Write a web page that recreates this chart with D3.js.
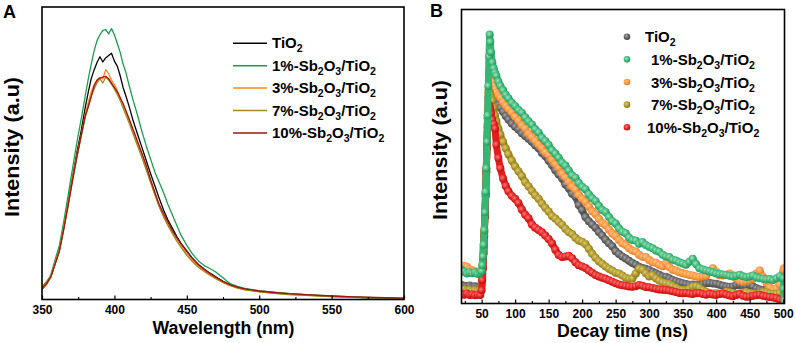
<!DOCTYPE html>
<html><head><meta charset="utf-8">
<script src="https://cdn.jsdelivr.net/npm/d3@7/dist/d3.min.js"></script>
<style>
body{margin:0;background:#fff}
svg{display:block}
text{font-family:"Liberation Sans",Arial,sans-serif;font-weight:bold;fill:#000}
</style>
</head><body>
<svg id="c" width="796" height="343"></svg>
<script>
// ---------- DATA ----------
const seriesNames = ["TiO2","1%-Sb2O3/TiO2","3%-Sb2O3/TiO2","7%-Sb2O3/TiO2","10%-Sb2O3/TiO2"];

// Panel A: photoluminescence spectra
const wavelength = [350,353,356,359,362,365,368,371,374,377,380,382,384,386,388,390,392,394,396,398,
  400,402,404,406,408,410,413,416,419,422,425,428,431,434,437,440,443,446,450,454,
  458,462,466,470,475,480,485,490,500,510,520,535,550,565,580,600];
const plTiO2 = [3.5,5.2,7.6,12.3,17,24.5,33,41.5,50,57.5,66,71,75.5,78.5,81,83,81.2,82.6,83.4,84.2,
  81.5,79.8,76.5,72.5,69.5,66.3,61,56.5,52,47.5,43,38.8,34.5,30.5,27.2,24.4,21.6,19.2,16.6,14,
  12,10.4,9,7.8,6.2,5.0,4.2,3.6,2.8,2.3,1.9,1.5,1.1,0.8,0.5,0.3];
const pl1 = [4.4,6.0,8.2,13.5,18.5,26.5,35.5,44.5,53.5,61.5,70,75.5,80.5,85,88.5,90.5,92,92.3,90.8,92.6,
  90.5,87.5,84.5,80.5,77.5,73.5,68,63,57.5,52.5,48,43.5,40,36.5,32.5,29,25.5,22,18.5,15.5,
  13.2,11.6,10.6,9.4,7.4,5.4,4.5,3.8,3.0,2.5,2.1,1.6,1.2,0.9,0.6,0.4];
const pl3 = [4.0,5.6,7.9,12.5,17,24.5,32.5,41,49,56,63.5,67.5,71,73.5,75,76,75.4,78.6,77.2,75,
  73.5,71.5,69,66.5,64,61.5,57.5,53.5,49.5,45,40.2,35.8,31.8,28.6,25.6,23,20.5,18.2,15.6,13.4,
  11.5,10,8.6,7.3,5.9,4.8,4.0,3.4,2.7,2.2,1.8,1.4,1.0,0.8,0.6,0.4];
const pl7 = [3.6,5.2,7.5,12,16.5,24,32,40.5,48.5,55.5,62.5,66,69.5,72,74,75.5,74,76,75,73.5,
  72,70,68,65.5,63,60.5,56.5,52.5,48.5,44.3,40,35.8,31.6,28.2,25.2,22.6,20,17.8,15.1,12.9,
  11,9.6,8.3,7.1,5.8,4.7,3.9,3.3,2.6,2.1,1.7,1.3,1.0,0.7,0.5,0.3];
const pl10 = [3.8,5.4,7.7,12,16.5,24,32,40.5,48.5,56,63,66,69.5,73,75,75.7,76,76.3,75.5,74,
  72.5,71,69,67,64.5,62,58,54,50,45.8,41,36.6,32.4,29.3,26.4,23.6,21.2,19,16.4,14,
  11.9,10.3,8.9,7.6,6.2,5.0,4.2,3.6,2.9,2.4,2.0,1.6,1.2,0.9,0.7,0.5];
const wlTicks = [350,400,450,500,550,600];
const wlMinor = [375,425,475,525,575];

// Panel B: time-resolved decay
const decayTime = [20,24,28,32,36,40,44,48,
  50,51,52,53,54,55,56,57,58,59,60,61,62,63,64,
  66,68,70,72,75,78,82,86,90,95,
  100,105,110,115,120,125,130,135,140,145,
  150,155,160,165,170,175,180,185,190,195,
  200,205,210,215,220,225,230,235,240,245,
  250,255,260,265,270,275,280,285,290,295,
  300,305,310,315,320,325,330,335,340,345,
  350,355,360,365,370,375,380,385,390,395,
  400,405,410,415,420,425,430,435,440,445,
  450,455,460,465,470,475,480,485,490,495,
  500,501,502];
const decayTiO2 = [6.3,6.0,5.8,6.1,5.7,5.9,5.6,5.8,
  7,10,14,19,24.5,30.5,37.5,45.5,54.5,63,70,75,77,75,73,
  71,69.8,68.9,68.2,67.5,66.6,65.2,63.8,62.6,61.2,
  60.1,59.2,57.9,57.0,56.0,55.0,53.8,52.8,51.2,50.2,
  48.6,47.1,45.3,43.9,42.6,40.5,39.2,37.3,36.4,33.5,
  31.8,29.4,28.0,26.9,25.8,24.3,23.1,21.7,20.5,19.5,
  17.8,16.8,16.0,15.3,14.5,13.8,13.2,12.5,12.1,11.8,
  11.4,10.8,10.3,9.8,9.2,9.1,8.6,8.0,7.6,7.2,
  6.9,6.6,6.4,6.5,6.3,6.2,6.6,6.9,7.0,6.8,
  6.7,6.4,6.0,5.8,5.7,5.8,6.2,6.4,6.1,6.0,
  6.3,5.8,5.2,4.8,4.6,4.6,4.8,4.5,4.3,4.6,
  4.6,4.5,4.4];
const decay1 = [11.5,10.8,10.2,10.6,10.3,10.6,10.1,10.4,
  11,13,16,20,25,31,38,46,55,64,74,84,91.5,89,85.5,
  82,80,78.5,77.5,75.5,74,72.5,71,69.8,68.3,
  67.2,65.8,64.9,63.3,62.0,60.9,59.3,58.2,56.4,55.3,
  53.9,52.1,51.0,49.6,47.9,46.9,45.2,43.6,42.8,41.0,
  39.7,38.9,37.1,35.8,34.9,33.2,31.8,31.1,29.4,28.0,
  27.2,25.5,24.4,23.9,22.4,21.6,21.4,20.3,20.9,19.9,
  19.3,18.8,18.0,17.6,16.6,16.0,15.8,14.9,14.6,14.0,
  13.6,13.2,14.2,15.2,13.4,12.0,11.6,11.2,11.0,10.6,
  10.2,10.0,9.9,9.7,9.4,9.2,9.4,9.8,9.3,9.0,
  9.2,9.5,8.9,8.6,8.4,8.2,8.3,8.0,8.6,9.3,
  8.6,5,1];
const decay3 = [12.2,12.8,12.5,11.6,11.3,11.0,10.2,10.0,
  10.8,13,16,20,25,31,38,46,55,64,72,79,82,80,78,
  75.5,74,72.8,71.8,70.9,70.0,68.5,67.3,66.2,65.0,
  63.5,62.2,60.6,59.5,57.8,56.7,55.4,54.1,52.9,51.4,
  50.5,48.8,47.4,46.2,44.2,42.9,41.5,39.8,38.8,37.0,
  35.6,34.6,33.0,31.4,30.4,28.8,27.4,26.6,25.2,23.8,
  23.0,21.6,20.5,19.9,18.8,18.0,17.7,16.6,15.9,15.8,
  14.8,14.0,13.9,13.2,12.7,13.8,12.4,11.5,11.2,10.6,
  10.3,10.0,9.7,9.5,9.2,9.0,9.2,9.4,10.8,12.0,
  10.8,9.6,9.5,9.8,10.2,9.6,8.5,7.8,7.4,7.6,
  8.0,8.4,10.2,11.2,9.0,7.0,5.4,4.6,5.2,6.5,
  11.0,12,11.5];
const decay7 = [4.5,4.8,4.3,4.6,4.2,4.5,4.3,4.5,
  6,9,13,18,24,30,37,45,53.5,61,67,71,72,71,70,
  69,66.5,64,62,59.5,57.5,55.0,52.8,50.8,48.6,
  46.6,45.0,43.4,41.3,39.9,38.3,36.8,35.6,34.0,32.6,
  31.3,29.8,28.9,27.8,26.8,25.4,24.3,23.6,22.4,21.4,
  21.0,20.2,18.6,16.9,15.6,14.4,13.5,12.6,11.8,11.2,
  10.5,10.2,9.5,8.8,8.4,8.5,10.2,11.8,11.5,10.3,
  9.2,9.6,8.6,7.8,7.2,6.9,6.6,6.0,5.4,4.8,
  4.6,4.5,5.0,5.7,5.9,5.4,4.6,4.0,3.6,3.4,
  3.5,3.3,3.6,4.0,3.8,3.6,3.2,3.4,3.7,3.9,
  3.6,3.4,3.2,3.5,3.9,3.7,3.4,3.2,3.3,3.5,
  3.4,3.3,3.2];
const decay10 = [3.2,3.0,3.4,2.9,3.1,2.8,3.0,2.9,
  4.5,8,12,17,23,29.5,36.5,44.5,53,60,65,67.5,67,66,64.5,
  62.5,61,59.5,54,49.5,46,42.5,40.0,38.2,36.6,
  35.6,34.2,32.0,30.2,29.0,26.9,25.8,25.0,24.2,23.1,
  21.9,20.5,18.3,16.5,15.8,16.0,16.2,15.4,14.0,13.0,
  12.6,12.1,11.2,10.5,9.7,9.2,8.8,8.4,7.9,7.4,
  6.9,6.5,6.2,6.0,5.8,5.7,5.9,6.3,6.0,5.6,
  5.5,5.3,5.0,4.8,4.7,4.6,4.4,4.2,3.9,3.6,
  3.5,3.6,3.4,3.2,3.5,3.6,3.2,3.0,3.3,3.1,
  2.9,3.2,3.4,3.1,2.7,2.5,2.9,3.2,2.6,2.3,
  2.4,2.6,2.8,3.0,2.6,2.4,2.2,2.0,1.8,1.3,
  1.0,0.8,0.8];
const timeTicks = [50,100,150,200,250,300,350,400,450,500];
const timeMinor = [25,75,125,175,225,275,325,375,425,475];

// ---------- STYLE ----------
const colorsA = ["#000000","#1c9e4e","#ff8a1c","#a3871f","#a01414"];
const colorsB = ["#5c5c5c","#35b673","#ff943a","#ab9326","#e31c1c"];
const lightB  = ["#a8a8a8","#9fe2bd","#ffc58c","#dccb72","#ff7a78"];

const svg = d3.select("#c");
const defs = svg.append("defs");

function addLabel(sel, label, mainSize, subSize, shift){
  // digits directly following a letter are subscripts
  let segs = [];
  for (let i=0;i<label.length;i++){
    const ch = label[i];
    const sub = /\d/.test(ch) && i>0 && /[A-Za-z]/.test(label[i-1]);
    if (segs.length && segs[segs.length-1].sub===sub) segs[segs.length-1].t += ch;
    else segs.push({t:ch, sub});
  }
  let cur = 0;
  segs.forEach(s=>{
    const target = s.sub ? shift : 0;
    sel.append("tspan").attr("dy", target-cur)
      .attr("font-size", s.sub?subSize:mainSize).text(s.t);
    cur = target;
  });
}

// ---------- PANEL A ----------
const A = {l:42, r:404, t:7, b:299.5};
const xA = d3.scaleLinear().domain([350,600]).range([A.l, A.r]);
const yA = d3.scaleLinear().domain([0,100]).range([A.b, A.t]);
defs.append("clipPath").attr("id","clipA").append("rect")
  .attr("x",A.l).attr("y",A.t).attr("width",A.r-A.l).attr("height",A.b-A.t);

const plSeries = [plTiO2, pl1, pl3, pl7, pl10];
const lineA = d3.line().x(d=>xA(d[0])).y(d=>yA(d[1]));
const gA = svg.append("g").attr("clip-path","url(#clipA)");
plSeries.forEach((s,i)=>{
  gA.append("path").datum(wavelength.map((w,j)=>[w,s[j]]))
    .attr("d", lineA).attr("fill","none").attr("stroke",colorsA[i])
    .attr("stroke-width",1.3).attr("stroke-linejoin","round");
});

const axA = svg.append("g").attr("transform",`translate(0,${A.b})`)
  .call(d3.axisBottom(xA).tickValues(wlTicks).tickSize(-4).tickPadding(6).tickFormat(d3.format("d")));
axA.select(".domain").remove();
axA.selectAll("line").attr("stroke-width",1.2);
axA.selectAll("text").attr("font-size",12).attr("font-family",null).style("font-weight","bold");
const axAm = svg.append("g").attr("transform",`translate(0,${A.b})`)
  .call(d3.axisBottom(xA).tickValues(wlMinor).tickSize(-2.5).tickFormat(""));
axAm.select(".domain").remove();
axAm.selectAll("line").attr("stroke-width",1.1);

svg.append("rect").attr("x",A.l).attr("y",A.t).attr("width",A.r-A.l).attr("height",A.b-A.t)
  .attr("fill","none").attr("stroke","#000").attr("stroke-width",1.6);

svg.append("text").attr("x",(A.l+A.r)/2+0.5).attr("y",333.5).attr("text-anchor","middle")
  .attr("font-size",17.5).attr("textLength",142).attr("lengthAdjust","spacingAndGlyphs")
  .text("Wavelength (nm)");
svg.append("text").attr("transform","translate(18.5,147) rotate(-90)").attr("text-anchor","middle")
  .attr("font-size",21).attr("textLength",140).attr("lengthAdjust","spacingAndGlyphs")
  .text("Intensity (a.u)");
svg.append("text").attr("x",3).attr("y",17.5).attr("font-size",18).text("A");

// legend A
seriesNames.forEach((n,i)=>{
  const yy = 43.3 + i*22.4;
  svg.append("line").attr("x1",233).attr("x2",267).attr("y1",yy).attr("y2",yy)
    .attr("stroke",colorsA[i]).attr("stroke-width",1.5);
  const t = svg.append("text").attr("x",272).attr("y",yy+5).attr("font-size",15);
  addLabel(t, n, 15, 10.5, 4);
});

// ---------- PANEL B ----------
const B = {l:461.5, r:784.5, t:9.5, b:303.5};
const xB = d3.scaleLinear().domain([20,502]).range([B.l, B.r]);
const yB = d3.scaleLinear().domain([0,100]).range([B.b, B.t]);
defs.append("clipPath").attr("id","clipB").append("rect")
  .attr("x",B.l).attr("y",B.t).attr("width",B.r-B.l).attr("height",B.b-B.t);

colorsB.forEach((c,i)=>{
  const g = defs.append("radialGradient").attr("id","ball"+i)
    .attr("cx","40%").attr("cy","38%").attr("r","62%");
  g.append("stop").attr("offset","0%").attr("stop-color",lightB[i]);
  g.append("stop").attr("offset","65%").attr("stop-color",c);
  g.append("stop").attr("offset","100%").attr("stop-color",d3.color(c).darker(0.6));
});

const decaySeries = [decayTiO2, decay1, decay3, decay7, decay10];
const drawOrder = [0,2,3,4,1];
const lineB = d3.line().x(d=>xB(d[0])).y(d=>yB(d[1]));
const gB = svg.append("g").attr("clip-path","url(#clipB)");
drawOrder.forEach(i=>{
  const pts = decayTime.map((t,j)=>[t, decaySeries[i][j]]);
  const gs = gB.append("g");
  gs.append("path").datum(pts).attr("d",lineB).attr("fill","none")
    .attr("stroke",colorsB[i]).attr("stroke-width",7).attr("stroke-linejoin","round");
  gs.selectAll("circle").data(pts).join("circle")
    .attr("cx",d=>xB(d[0])).attr("cy",d=>yB(d[1])).attr("r",4)
    .attr("fill",`url(#ball${i})`);
});

const axB = svg.append("g").attr("transform",`translate(0,${B.b})`)
  .call(d3.axisBottom(xB).tickValues(timeTicks).tickSize(-4).tickPadding(6).tickFormat(d3.format("d")));
axB.select(".domain").remove();
axB.selectAll("line").attr("stroke-width",1.2);
axB.selectAll("text").attr("font-size",12).attr("font-family",null).style("font-weight","bold");
const axBm = svg.append("g").attr("transform",`translate(0,${B.b})`)
  .call(d3.axisBottom(xB).tickValues(timeMinor).tickSize(-2.5).tickFormat(""));
axBm.select(".domain").remove();
axBm.selectAll("line").attr("stroke-width",1.1);

svg.append("rect").attr("x",B.l).attr("y",B.t).attr("width",B.r-B.l).attr("height",B.b-B.t)
  .attr("fill","none").attr("stroke","#000").attr("stroke-width",1.6);

svg.append("text").attr("x",622.5).attr("y",337).attr("text-anchor","middle")
  .attr("font-size",17.5).attr("textLength",131).attr("lengthAdjust","spacingAndGlyphs")
  .text("Decay time (ns)");
svg.append("text").attr("transform","translate(447,150) rotate(-90)").attr("text-anchor","middle")
  .attr("font-size",21).attr("textLength",140).attr("lengthAdjust","spacingAndGlyphs")
  .text("Intensity (a.u)");
svg.append("text").attr("x",430).attr("y",16.5).attr("font-size",18).text("B");

// legend B
const legTextX = [645,651,651,651,647];
seriesNames.forEach((n,i)=>{
  const yy = 36.7 + i*22.65;
  svg.append("circle").attr("cx",627).attr("cy",yy).attr("r",3.3).attr("fill",`url(#ball${i})`);
  const t = svg.append("text").attr("x",legTextX[i]).attr("y",yy+5.5).attr("font-size",15);
  addLabel(t, n, 15, 10.5, 4);
});
</script>
</body></html>
